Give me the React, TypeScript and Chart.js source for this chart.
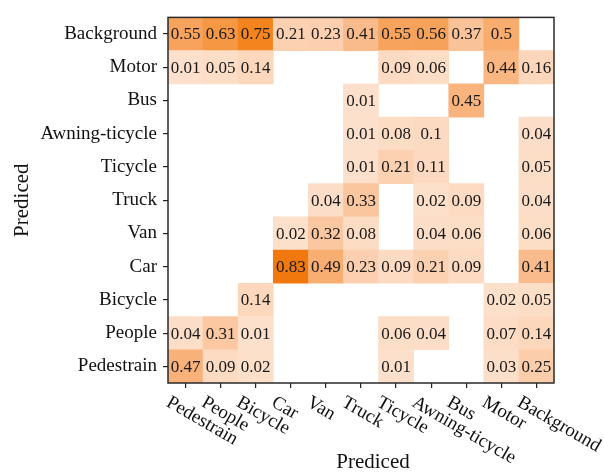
import React, { useEffect, useRef } from "react";
import { Chart, registerables } from "chart.js";

Chart.register(...registerables);

const colLabels = ["Pedestrain", "People", "Bicycle", "Car", "Van", "Truck", "Ticycle", "Awning-ticycle", "Bus", "Motor", "Background"];
// rows listed bottom to top
const rowLabels = ["Pedestrain", "People", "Bicycle", "Car", "Van", "Truck", "Ticycle", "Awning-ticycle", "Bus", "Motor", "Background"];

const rowPedestrain = [0.47, 0.09, 0.02, 0, 0, 0, 0.01, 0, 0, 0.03, 0.25];
const rowPeople = [0.04, 0.31, 0.01, 0, 0, 0, 0.06, 0.04, 0, 0.07, 0.14];
const rowBicycle = [0, 0, 0.14, 0, 0, 0, 0, 0, 0, 0.02, 0.05];
const rowCar = [0, 0, 0, 0.83, 0.49, 0.23, 0.09, 0.21, 0.09, 0, 0.41];
const rowVan = [0, 0, 0, 0.02, 0.32, 0.08, 0, 0.04, 0.06, 0, 0.06];
const rowTruck = [0, 0, 0, 0, 0.04, 0.33, 0, 0.02, 0.09, 0, 0.04];
const rowTicycle = [0, 0, 0, 0, 0, 0.01, 0.21, 0.11, 0, 0, 0.05];
const rowAwning = [0, 0, 0, 0, 0, 0.01, 0.08, 0.1, 0, 0, 0.04];
const rowBus = [0, 0, 0, 0, 0, 0.01, 0, 0, 0.45, 0, 0];
const rowMotor = [0.01, 0.05, 0.14, 0, 0, 0, 0.09, 0.06, 0, 0.44, 0.16];
const rowBackground = [0.55, 0.63, 0.75, 0.21, 0.23, 0.41, 0.55, 0.56, 0.37, 0.5, 0];

const matrix = [rowPedestrain, rowPeople, rowBicycle, rowCar, rowVan, rowTruck, rowTicycle, rowAwning, rowBus, rowMotor, rowBackground];

const axisTitle = "Prediced";
const FONT = "'Liberation Serif', 'Times New Roman', serif";

const stops: [number, number[]][] = [
  [0, [252, 225, 204]],
  [0.16, [252, 214, 186]],
  [0.37, [250, 194, 152]],
  [0.55, [247, 163, 94]],
  [0.75, [244, 133, 30]],
  [0.83, [240, 120, 12]],
];

function colorFor(v: number): string {
  for (let i = 1; i < stops.length; i++) {
    if (v <= stops[i][0]) {
      const [v0, c0] = stops[i - 1];
      const [v1, c1] = stops[i];
      const t = (v - v0) / (v1 - v0);
      const c = c0.map((a, k) => Math.round(a + (c1[k] - a) * t));
      return `rgb(${c[0]},${c[1]},${c[2]})`;
    }
  }
  const c = stops[stops.length - 1][1];
  return `rgb(${c[0]},${c[1]},${c[2]})`;
}

export default function App() {
  const ref = useRef<HTMLCanvasElement | null>(null);

  useEffect(() => {
    if (!ref.current) return;

    const datasets = matrix.map((row, r) => ({
      label: rowLabels[r],
      data: row.map((v) => (v > 0 ? [r - 0.5, r + 0.5] : null)),
      backgroundColor: row.map((v) => colorFor(v)),
      borderWidth: 0,
      grouped: false,
      barPercentage: 1,
      categoryPercentage: 1,
    }));

    const overlay = {
      id: "overlay",
      afterDatasetsDraw(chart: any) {
        const ctx = chart.ctx;
        const xs = chart.scales.x;
        const ys = chart.scales.y;
        const area = chart.chartArea;
        ctx.save();
        ctx.fillStyle = "#1a1a1a";
        ctx.font = `17px ${FONT}`;
        ctx.textAlign = "center";
        ctx.textBaseline = "middle";
        matrix.forEach((row, r) => {
          row.forEach((v, j) => {
            if (v > 0) {
              ctx.fillText(String(v), xs.getPixelForValue(j), ys.getPixelForValue(r) + 1);
            }
          });
        });
        ctx.strokeStyle = "#2a2a2a";
        ctx.lineWidth = 1.5;
        ctx.strokeRect(area.left, area.top, area.right - area.left, area.bottom - area.top);

        // rotated x tick labels
        ctx.font = `19px ${FONT}`;
        ctx.fillStyle = "#111";
        ctx.textAlign = "left";
        ctx.textBaseline = "top";
        colLabels.forEach((lab, j) => {
          const x = xs.getPixelForValue(j);
          ctx.save();
          ctx.translate(x - 13, area.bottom + 10);
          ctx.rotate((30 * Math.PI) / 180);
          ctx.fillText(lab, 0, 0);
          ctx.restore();
        });

        // axis titles
        ctx.font = `21px ${FONT}`;
        ctx.textAlign = "center";
        ctx.textBaseline = "middle";
        ctx.fillText(axisTitle, 373, 462);
        ctx.save();
        ctx.translate(22, (area.top + area.bottom) / 2);
        ctx.rotate(-Math.PI / 2);
        ctx.fillText(axisTitle, 0, 0);
        ctx.restore();
        ctx.restore();
      },
    };

    const chart = new Chart(ref.current, {
      type: "bar",
      data: { labels: colLabels, datasets: datasets as any },
      options: {
        animation: false,
        responsive: false,
        maintainAspectRatio: false,
        layout: { padding: { left: 0, right: 50, top: 11, bottom: 0 } },
        plugins: { legend: { display: false }, tooltip: { enabled: false } },
        scales: {
          x: {
            type: "category",
            offset: true,
            grid: { offset: false, drawOnChartArea: false, drawTicks: true, tickLength: 5, color: "#222", lineWidth: 1.2 },
            border: { display: false },
            ticks: { display: false },
            afterFit: (axis: any) => {
              axis.height = 89;
            },
          },
          y: {
            type: "linear",
            min: -0.5,
            max: 10.5,
            afterBuildTicks: (axis: any) => {
              axis.ticks = rowLabels.map((_, i) => ({ value: i }));
            },
            grid: { drawOnChartArea: false, drawTicks: true, tickLength: 5, color: "#222", lineWidth: 1.2 },
            border: { display: false },
            ticks: {
              autoSkip: false,
              padding: 6,
              color: "#111",
              font: { family: FONT, size: 19 },
              callback: (v: any) => rowLabels[Math.round(Number(v))] ?? "",
            },
            afterFit: (axis: any) => {
              axis.width = 168;
            },
          },
        },
      },
      plugins: [overlay],
    });

    return () => chart.destroy();
  }, []);

  return (
    <div style={{ position: "fixed", left: 0, top: 0, width: 604, height: 472, background: "#fff" }}>
      <canvas ref={ref} width={604} height={472} style={{ width: 604, height: 472, display: "block" }} />
    </div>
  );
}
